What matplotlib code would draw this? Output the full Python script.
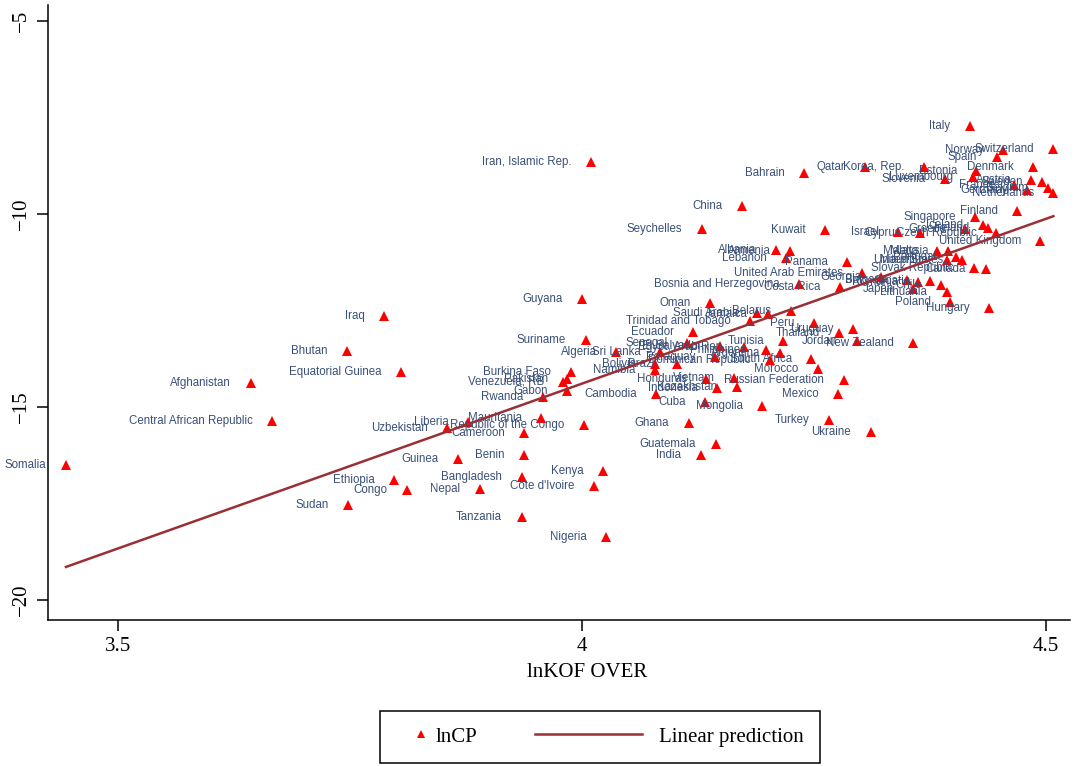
import matplotlib.pyplot as plt
import numpy as np
from matplotlib.lines import Line2D
from matplotlib.legend_handler import HandlerBase

# country labels, lnKOF OVER (x) and lnCP (y)
countries = [
    "Somalia", "Central African Republic", "Afghanistan", "Bhutan", "Iraq",
    "Equatorial Guinea", "Ethiopia", "Congo", "Sudan", "Guinea", "Nepal",
    "Bangladesh", "Benin", "Cameroon", "Republic of the Congo", "Mauritania",
    "Uzbekistan", "Liberia", "Kenya", "Cote d'Ivoire", "Tanzania", "Nigeria",
    "Burkina Faso", "Pakistan", "Venezuela, RB", "Gabon", "Rwanda", "Cambodia",
    "Ghana", "Cuba", "Mongolia", "Guatemala", "India", "Turkey", "Mexico",
    "Ukraine", "Honduras", "Vietnam", "Kazakhstan", "Indonesia",
    "Russian Federation", "Oman", "Saudi Arabia", "Jamaica", "Belarus",
    "Trinidad and Tobago", "Ecuador", "Peru", "Uruguay", "Thailand", "Jordan",
    "New Zealand", "Tunisia", "South Africa", "Morocco", "Dominican Republic",
    "Algeria", "Sri Lanka", "Senegal", "Egypt, Arab Rep.", "El Salvador",
    "Paraguay", "Philippines", "Argentina", "Bolivia", "Brazil", "Namibia",
    "Albania", "Armenia", "Lebanon", "Panama", "Kuwait", "Israel", "China",
    "Seychelles", "Bahrain", "Iran, Islamic Rep.", "Guyana", "Suriname",
    "Bosnia and Herzegovina", "Costa Rica", "United Arab Emirates", "Georgia",
    "Japan", "Lithuania", "Poland", "Hungary", "Bulgaria", "Romania",
    "Croatia", "Chile", "Slovak Republic", "Canada", "United States",
    "Malaysia", "Malta", "Portugal", "Mauritius", "Singapore", "Iceland",
    "Ireland", "Czech Republic", "Cyprus", "Greece", "United Kingdom",
    "Finland", "Italy", "Switzerland", "Norway", "Spain", "Denmark", "Qatar",
    "Korea, Rep.", "Estonia", "Luxembourg", "Slovenia", "Austria", "Sweden",
    "France", "Germany", "Belgium", "Netherlands",
]

kof = [
    3.444, 3.666, 3.643, 3.747, 3.787,
    3.805, 3.798, 3.811, 3.748, 3.866, 3.890,
    3.935, 3.938, 3.938, 4.002, 3.956,
    3.855, 3.877, 4.023, 4.013, 3.935, 4.026,
    3.988, 3.984, 3.980, 3.984, 3.958, 4.080,
    4.115, 4.133, 4.194, 4.144, 4.128, 4.266, 4.276,
    4.311, 4.134, 4.164, 4.167, 4.146,
    4.282, 4.138, 4.189, 4.200, 4.225,
    4.181, 4.120, 4.250, 4.292, 4.277, 4.296,
    4.357, 4.217, 4.247, 4.254, 4.203,
    4.037, 4.084, 4.113, 4.175, 4.149,
    4.143, 4.198, 4.213, 4.079, 4.102, 4.079,
    4.209, 4.224, 4.220, 4.286, 4.262, 4.341, 4.172,
    4.129, 4.239, 4.010, 4.000, 4.004,
    4.234, 4.278, 4.302, 4.322,
    4.357, 4.393, 4.397, 4.439, 4.350, 4.362,
    4.375, 4.387, 4.422, 4.435, 4.410,
    4.394, 4.383, 4.403, 4.393, 4.424, 4.432,
    4.438, 4.446, 4.364, 4.413, 4.494,
    4.469, 4.418, 4.508, 4.454, 4.447, 4.486, 4.305,
    4.369, 4.425, 4.421, 4.391, 4.484, 4.496,
    4.466, 4.480, 4.502, 4.508,
]

lncp = [
    -16.50, -15.36, -14.38, -13.55, -12.64,
    -14.09, -16.89, -17.15, -17.55, -16.35, -17.12,
    -16.81, -16.24, -15.67, -15.47, -15.29,
    -15.54, -15.39, -16.66, -17.05, -17.85, -18.37,
    -14.09, -14.28, -14.35, -14.59, -14.74, -14.66,
    -15.41, -14.87, -14.97, -15.96, -16.24, -15.34, -14.66,
    -15.65, -14.28, -14.25, -14.48, -14.51,
    -14.30, -12.31, -12.57, -12.59, -12.51,
    -12.77, -13.06, -12.82, -12.98, -13.08, -13.29,
    -13.34, -13.29, -13.76, -14.02, -13.78,
    -13.58, -13.58, -13.34, -13.45, -13.42,
    -13.71, -13.52, -13.60, -13.89, -13.89, -14.04,
    -10.93, -10.96, -11.14, -11.24, -10.42, -10.47, -9.79,
    -10.39, -8.94, -8.65, -12.20, -13.26,
    -11.81, -11.89, -11.53, -11.63,
    -11.94, -12.02, -12.28, -12.44, -11.71, -11.76,
    -11.74, -11.84, -11.40, -11.43, -11.19,
    -10.96, -10.96, -11.11, -11.19, -10.08, -10.29,
    -10.36, -10.49, -10.49, -10.39, -10.70,
    -9.92, -7.72, -8.32, -8.34, -8.52, -8.78, -8.78,
    -8.78, -8.89, -9.04, -9.09, -9.12, -9.17,
    -9.25, -9.38, -9.33, -9.46,
]

x_ticks = [3.5, 4, 4.5]
x_tick_labels = ["3.5", "4", "4.5"]
y_ticks = [-20, -15, -10, -5]
y_tick_labels = ["\u221220", "\u221215", "\u221210", "\u22125"]

serif = "Liberation Serif"
label_color = "#3a5078"
marker_color = "#ff0000"
line_color = "#9a2f35"


class MarkerAtRight(HandlerBase):
    # legend marker sitting at the right end of its handle box
    def create_artists(self, legend, orig_handle, xdescent, ydescent,
                       width, height, fontsize, trans):
        y = height / 2 - ydescent
        m = Line2D([width - xdescent - 0.3 * fontsize], [y], linestyle="none",
                   marker="^", markersize=6, color=marker_color,
                   markeredgewidth=0, transform=trans)
        return [m]


class LongLine(HandlerBase):
    # line that runs further left than the short handle box
    def create_artists(self, legend, orig_handle, xdescent, ydescent,
                       width, height, fontsize, trans):
        y = height / 2 - ydescent
        end = width - xdescent - 6
        ln = Line2D([end - 77, end], [y, y], color=line_color, linewidth=1.8,
                    transform=trans)
        return [ln]


fig = plt.figure(figsize=(10.76, 7.66), dpi=100)
ax = fig.add_axes([0.0446, 0.1906, 0.9498, 0.8029])

ax.plot(kof, lncp, linestyle="none", marker="^", markersize=7.5,
        color=marker_color, markeredgewidth=0, zorder=2)

for name, x, y in zip(countries, kof, lncp):
    ax.annotate(name, (x, y), xytext=(-14, 0), textcoords="offset points",
                ha="right", va="center", fontsize=8.3, color=label_color,
                family="Liberation Sans", zorder=2.5)

# linear prediction over the range of the data
coef = np.polyfit(kof, lncp, 1)
fit_x = np.array([min(kof), max(kof)])
ax.plot(fit_x, np.polyval(coef, fit_x), color=line_color, linewidth=1.8,
        zorder=3)

ax.set_xlim(3.4246, 4.5259)
ax.set_ylim(-20.52, -4.585)
ax.set_xticks(x_ticks)
ax.set_xticklabels(x_tick_labels, family=serif, fontsize=15)
ax.set_yticks(y_ticks)
ax.set_yticklabels(y_tick_labels, family=serif, fontsize=15, rotation=90,
                   va="center")
ax.tick_params(axis="both", direction="out", length=8, width=1.1, pad=4)
ax.set_xlabel("lnKOF OVER", family=serif, fontsize=15, va="center")
ax.xaxis.set_label_coords(0.528, -0.0846)

for s in ["top", "right"]:
    ax.spines[s].set_visible(False)
for s in ["left", "bottom"]:
    ax.spines[s].set_linewidth(1.1)

h_pts = Line2D([], [], linestyle="none", marker="^", color=marker_color)
h_line = Line2D([], [], color=line_color, linewidth=1.8)
leg = fig.legend([h_pts, h_line], ["lnCP", "Linear prediction"],
                 loc="lower center", bbox_to_anchor=(0.5573, 0.0039), ncol=2,
                 prop={"family": serif, "size": 15}, frameon=True,
                 fancybox=False, edgecolor="black", framealpha=1,
                 handlelength=1.52, handletextpad=0.38, columnspacing=6.8,
                 borderpad=0.78, borderaxespad=0,
                 handler_map={h_pts: MarkerAtRight(), h_line: LongLine()})
leg.get_frame().set_linewidth(1.1)

plt.savefig("out.png", dpi=100)
